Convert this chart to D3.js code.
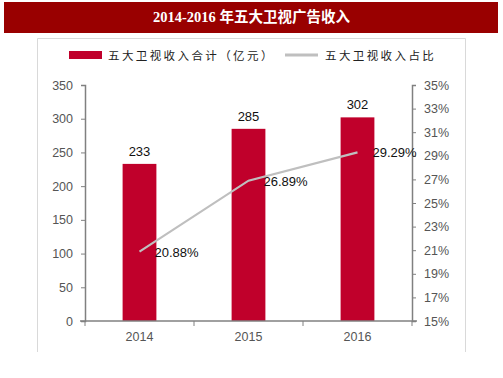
<!DOCTYPE html>
<html>
<head>
<meta charset="utf-8">
<script src="https://d3js.org/d3.v7.min.js"></script>
<style>
  body { margin: 0; background: #fff; }
  svg { display: block; font-family: "Liberation Sans", Arial, sans-serif; }
</style>
</head>
<body>
<div id="chart"></div>
<script>
// chart values
var years = ["2014", "2015", "2016"];
var revenue = [233, 285, 302];          // 五大卫视收入合计（亿元）
var share = [20.88, 26.89, 29.29];      // 五大卫视收入占比 (%)
var leftTicks = [0, 50, 100, 150, 200, 250, 300, 350];
var rightTicks = [15, 17, 19, 21, 23, 25, 27, 29, 31, 33, 35];

var W = 503, H = 378;
var svg = d3.select('#chart').append('svg')
    .attr('width', W)
    .attr('height', H);

// title bar
svg.append('rect')
  .attr('x', 4).attr('y', 2)
  .attr('width', 494).attr('height', 31)
  .style('fill', '#990000');
svg.append('text')
  .attr('x', W / 2).attr('y', 22)
  .attr('text-anchor', 'middle')
  .style('font-family', '"Liberation Serif", "Noto Sans CJK SC", serif')
  .style('font-weight', 'bold')
  .style('font-size', '14.5px')
  .style('fill', '#fff')
  .text('2014-2016 年五大卫视广告收入');

// frame (open at the bottom)
svg.append('path')
  .attr('d', 'M37.5,352V38.5H465.5V352')
  .style('fill', 'none')
  .style('stroke', '#d9d9d9');

// legend
var legend = svg.append('g')
    .style('font-family', '"Noto Sans CJK SC", sans-serif')
    .style('font-size', '11.5px')
    .style('letter-spacing', '2.4px')
    .style('fill', '#222');
legend.append('rect')
  .attr('x', 69).attr('y', 51)
  .attr('width', 33).attr('height', 8)
  .style('fill', '#c0002b');
legend.append('text').attr('x', 108).attr('y', 59.5).text('五大卫视收入合计（亿元）');
legend.append('line')
  .attr('x1', 285).attr('x2', 318).attr('y1', 55).attr('y2', 55)
  .style('stroke', '#bfbfbf').style('stroke-width', 3);
legend.append('text').attr('x', 325).attr('y', 59.5).text('五大卫视收入占比');

// scales
var x = d3.scaleBand().domain(years).range([85, 412]).paddingInner(0.69).paddingOuter(0.345);
var xBand = d3.scaleBand().domain(years).range([85, 412]);
var yL = d3.scaleLinear().domain([0, 350]).range([321, 85]);
var yR = d3.scaleLinear().domain([15, 35]).range([321, 85]);

// bars
svg.selectAll('rect.bar')
  .data(revenue)
  .enter().append('rect')
  .attr('class', 'bar')
  .attr('x', function(d, i) { return x(years[i]); })
  .attr('y', function(d) { return yL(d); })
  .attr('width', x.bandwidth())
  .attr('height', function(d) { return yL(0) - yL(d); })
  .style('fill', '#c0002b');

svg.selectAll('text.barlabel')
  .data(revenue)
  .enter().append('text')
  .attr('class', 'barlabel')
  .attr('x', function(d, i) { return x(years[i]) + x.bandwidth() / 2; })
  .attr('y', function(d) { return yL(d) - 8; })
  .attr('text-anchor', 'middle')
  .style('font-size', '13px')
  .style('fill', '#111')
  .text(function(d) { return d; });

// axes
var axisColor = '#808080';
var styleAxis = function(g) {
  g.select('.domain').style('stroke', axisColor).style('stroke-width', 1.5);
  g.selectAll('.tick line').style('stroke', axisColor);
  g.selectAll('.tick text').style('fill', '#555').style('font-size', '12.5px')
    .style('font-family', '"Liberation Sans", Arial, sans-serif');
};

var gL = svg.append('g')
    .attr('transform', 'translate(85,0)')
    .call(d3.axisLeft(yL).tickValues(leftTicks).tickSizeOuter(0).tickSize(4).tickPadding(8));
styleAxis(gL);

var gR = svg.append('g')
    .attr('transform', 'translate(412,0)')
    .call(d3.axisRight(yR).tickValues(rightTicks).tickSizeOuter(0).tickSize(4).tickPadding(8)
      .tickFormat(function(d) { return d + '%'; }));
styleAxis(gR);

var gX = svg.append('g')
    .attr('transform', 'translate(0,321)')
    .call(d3.axisBottom(xBand).tickSize(0).tickPadding(11));
styleAxis(gX);
gX.select('.domain').attr('d', 'M80,0H417');
// boundary ticks between categories
gX.selectAll('line.sep')
  .data([85].concat(years.map(function(y) { return xBand(y) + xBand.bandwidth(); })))
  .enter().append('line')
  .attr('class', 'sep')
  .attr('x1', function(d) { return d; }).attr('x2', function(d) { return d; })
  .attr('y1', 0).attr('y2', 5)
  .style('stroke', axisColor);

// share line
var line = d3.line()
    .x(function(d, i) { return x(years[i]) + x.bandwidth() / 2; })
    .y(function(d) { return yR(d); });
svg.append('path')
  .datum(share)
  .attr('d', line)
  .style('fill', 'none')
  .style('stroke', '#bfbfbf')
  .style('stroke-width', 2.2);

svg.selectAll('text.linelabel')
  .data(share)
  .enter().append('text')
  .attr('class', 'linelabel')
  .attr('x', function(d, i) { return x(years[i]) + x.bandwidth() / 2 + 15; })
  .attr('y', function(d) { return yR(d) + 5; })
  .style('font-size', '13px')
  .style('fill', '#111')
  .text(function(d) { return d.toFixed(2) + '%'; });
</script>
</body>
</html>
